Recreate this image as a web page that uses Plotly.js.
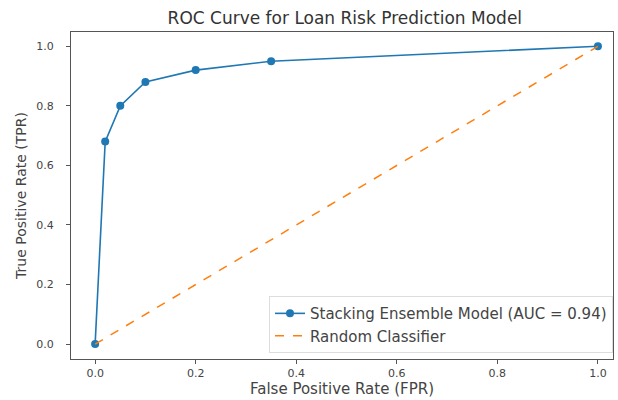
<!DOCTYPE html>
<html>
<head>
<meta charset="utf-8">
<script src="https://cdn.plot.ly/plotly-3.0.1.min.js"></script>
<style>html,body{margin:0;padding:0;background:#fff;}#chart{width:618px;height:400px;}</style>
</head>
<body>
<div id="chart"></div>
<script>
const fpr = [0.0, 0.02, 0.05, 0.10, 0.20, 0.35, 1.0];
const tpr = [0.0, 0.68, 0.80, 0.88, 0.92, 0.95, 1.0];
const randomX = [0, 1];
const randomY = [0, 1];
const modelName = "Stacking Ensemble Model (AUC = 0.94)";
const randomName = "Random Classifier";
const tickVals = [0.0, 0.2, 0.4, 0.6, 0.8, 1.0];
const tickText = ["0.0", "0.2", "0.4", "0.6", "0.8", "1.0"];

const font = "DejaVu Sans, sans-serif";
const traces = [
  {x: fpr, y: tpr, type: "scatter", mode: "lines+markers", name: modelName,
   line: {color: "#1f77b4", width: 1.6}, marker: {color: "#1f77b4", size: 8}},
  {x: randomX, y: randomY, type: "scatter", mode: "lines", name: randomName,
   line: {color: "#ff7f0e", width: 1.5, dash: "dash"}}
];
const axisCommon = {
  showgrid: false, zeroline: false, showline: true, mirror: true,
  linecolor: "#555", linewidth: 1, ticks: "outside", ticklen: 4, tickcolor: "#555",
  tickvals: tickVals, ticktext: tickText, tickfont: {family: font, size: 11, color: "#444"}
};
const layout = {
  width: 618, height: 400,
  margin: {l: 71, r: 5, t: 32, b: 41},
  paper_bgcolor: "#fff", plot_bgcolor: "#fff",
  title: {text: "ROC Curve for Loan Risk Prediction Model", font: {family: font, size: 17, color: "#333"},
          x: 0.558, xanchor: "center", y: 0.954, yanchor: "middle"},
  xaxis: Object.assign({}, axisCommon, {range: [-0.048, 1.03],
    title: {text: "False Positive Rate (FPR)", font: {family: font, size: 15, color: "#444"}, standoff: 2}}),
  yaxis: Object.assign({}, axisCommon, {range: [-0.05, 1.048], ticklabelstandoff: 10,
    title: {text: "True Positive Rate (TPR)", font: {family: font, size: 14, color: "#444"}, standoff: 6}}),
  legend: {x: 1.0, xanchor: "right", y: 0.018, yanchor: "bottom",
    bgcolor: "rgba(255,255,255,0.8)", bordercolor: "#ddd", borderwidth: 1,
    font: {family: font, size: 15, color: "#444"}, tracegroupgap: 0, itemwidth: 30},
  showlegend: true
};
Plotly.newPlot("chart", traces, layout, {displayModeBar: false, staticPlot: true});
</script>
</body>
</html>
